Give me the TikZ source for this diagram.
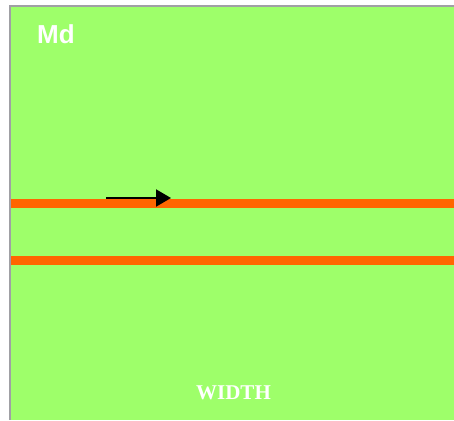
\documentclass[tikz,border=0pt]{standalone}
\usepackage{fontspec}
\setmainfont{Liberation Serif}
\setsansfont{Liberation Sans}
\usetikzlibrary{arrows.meta}
\definecolor{bggreen}{RGB}{158,255,106}
\definecolor{bandorange}{RGB}{255,102,0}
\definecolor{framegray}{RGB}{160,160,164}
\tikzset{
  x=1pt,y=-1pt,
  band/.style={fill=bandorange,draw=none},
  labelsans/.style={text=white,font=\sffamily\bfseries\fontsize{26}{26}\selectfont,inner sep=0pt,anchor=base west},
  labelserif/.style={text=white,font=\rmfamily\bfseries\fontsize{21}{21}\selectfont,inner sep=0pt,anchor=base},
  flowarrow/.style={draw=black,line width=2pt,-{Triangle[length=15pt,width=17pt]}}
}
\begin{document}
\begin{tikzpicture}
\useasboundingbox (0,0) rectangle (454,420);
\fill[white] (0,0) rectangle (454,420);
\fill[bggreen] (10,6) rectangle (454,420);
\draw[framegray,line width=2pt] (10,420) -- (10,6) -- (454,6);
\fill[band] (11,198.5) rectangle (454,207.5);
\fill[band] (11,255.5) rectangle (454,264.5);
\coordinate (a0) at (106,198);
\coordinate (a1) at (171,198);
\draw[flowarrow] (a0) -- (a1);
\node[labelsans] (md) at (37,43) {Md};
\node[labelserif] (width) at (233.5,399) {WIDTH};
\end{tikzpicture}
\end{document}
